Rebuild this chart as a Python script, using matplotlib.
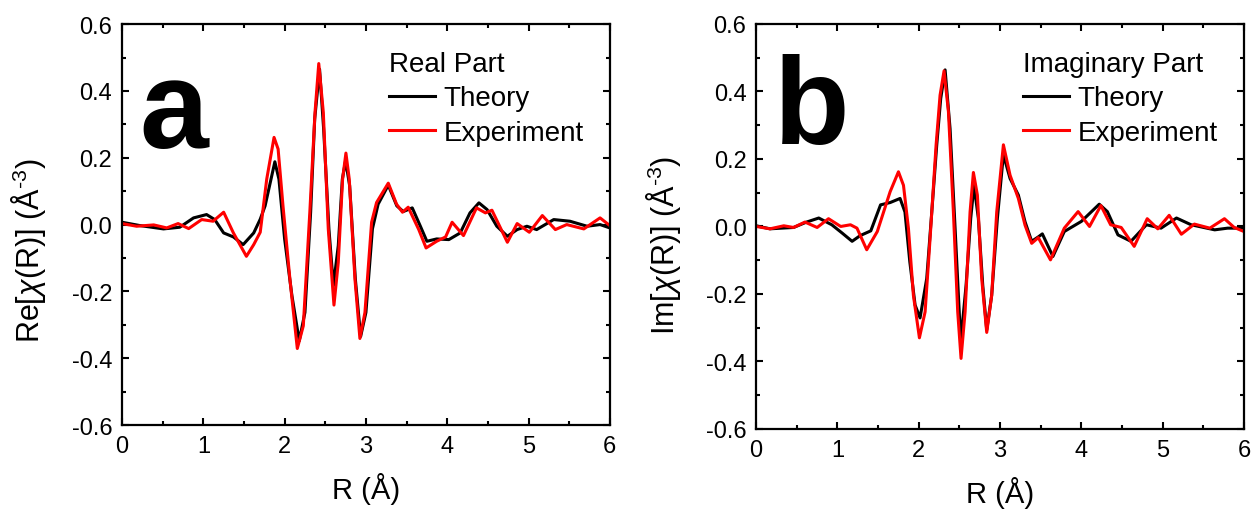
import matplotlib
matplotlib.use("Agg")
import matplotlib.pyplot as plt
from matplotlib.ticker import MultipleLocator, FormatStrFormatter

plt.rcParams["font.family"] = ["Liberation Sans", "DejaVu Sans"]
plt.rcParams["axes.unicode_minus"] = False
plt.rcParams["mathtext.fontset"] = "custom"
plt.rcParams["mathtext.rm"] = "Liberation Sans"
plt.rcParams["mathtext.it"] = "Liberation Sans:italic"

# panel a: real part
re_theory_r = [0.0, 0.22, 0.51, 0.71, 0.88, 1.04, 1.14, 1.25, 1.37, 1.49, 1.62,
               1.70, 1.76, 1.88, 1.93, 2.00, 2.09, 2.18, 2.25, 2.32, 2.37, 2.43, 2.48, 2.545,
               2.60, 2.66, 2.71, 2.75, 2.80, 2.87, 2.935, 3.00, 3.08, 3.15, 3.275, 3.38, 3.46,
               3.57, 3.67, 3.75, 3.87, 4.02, 4.16, 4.28, 4.39, 4.49, 4.61, 4.74, 4.86, 4.98,
               5.10, 5.31, 5.51, 5.72, 5.88, 6.0]
re_theory = [0.007, -0.003, -0.013, -0.008, 0.02, 0.03, 0.015, -0.025, -0.037, -0.06, -0.025,
             0.016, 0.056, 0.188, 0.136, -0.043, -0.213, -0.348, -0.263, 0.037, 0.316, 0.465,
             0.286, -0.013, -0.183, -0.063, 0.136, 0.191, 0.116, -0.163, -0.335, -0.263,
             -0.013, 0.061, 0.118, 0.056, 0.039,
             0.05, -0.005, -0.05, -0.043, -0.045, -0.025, 0.035, 0.065, 0.045, -0.005, -0.035,
             -0.015, -0.005, -0.015, 0.015, 0.01, -0.005, 0.0, -0.01]

re_exp_r = [0.0, 0.18, 0.39, 0.55, 0.69, 0.82, 0.98, 1.12, 1.25, 1.37, 1.53, 1.62,
            1.70, 1.78, 1.87, 1.92, 1.98, 2.065, 2.156, 2.23, 2.31, 2.374, 2.42, 2.476, 2.537,
            2.607, 2.66, 2.713, 2.754, 2.795, 2.865, 2.926, 2.988, 3.07, 3.131, 3.275, 3.377,
            3.45, 3.52,
            3.65, 3.74, 3.87, 3.98, 4.06, 4.20, 4.36, 4.47, 4.55, 4.74, 4.86, 5.01, 5.17, 5.33,
            5.47, 5.68, 5.88, 6.0]
re_exp = [0.003, -0.005, -0.001, -0.01, 0.003, -0.012, 0.015, 0.01, 0.037, -0.025, -0.095, -0.06,
          -0.023, 0.136, 0.261, 0.226, 0.056, -0.163, -0.371, -0.303, 0.037, 0.336, 0.482, 0.336,
          -0.013, -0.241, -0.113, 0.136, 0.214, 0.136, -0.163, -0.341, -0.263, 0.007, 0.066,
          0.124, 0.061, 0.037, 0.052,
          -0.015, -0.07, -0.05, -0.037, 0.007, -0.033, 0.05, 0.035, 0.043, -0.053, 0.003,
          -0.023, 0.027, -0.015, 0.0, -0.013, 0.02, -0.003]

# panel b: imaginary part
im_theory_r = [0.0, 0.17, 0.46, 0.62, 0.77, 0.93, 1.06, 1.18, 1.28, 1.41, 1.53,
               1.65, 1.77, 1.83, 1.89, 1.955, 2.016, 2.098, 2.16, 2.221, 2.27, 2.324, 2.385,
               2.447, 2.516, 2.582, 2.639, 2.68, 2.733, 2.787, 2.836, 2.897, 2.967, 3.041,
               3.123, 3.225, 3.307, 3.389, 3.47,
               3.52, 3.65, 3.79, 4.0, 4.22, 4.32, 4.45, 4.61, 4.80, 4.98, 5.17, 5.35, 5.64,
               5.80, 6.0]
im_theory = [0.002, -0.007, -0.003, 0.013, 0.025, 0.005, -0.02, -0.044, -0.027, -0.013, 0.064,
             0.071, 0.083, 0.043, -0.105, -0.233, -0.271, -0.154, 0.043, 0.241, 0.379, 0.464,
             0.29, -0.006, -0.342, -0.174, 0.024, 0.122, 0.024, -0.174, -0.307, -0.204, 0.024,
             0.213, 0.142, 0.093, 0.014, -0.044, -0.031,
             -0.022, -0.089, -0.015, 0.015, 0.066, 0.044, -0.025, -0.044, 0.005, -0.005, 0.025,
             0.005, -0.01, -0.005, -0.005]

im_exp_r = [0.0, 0.17, 0.34, 0.46, 0.60, 0.75, 0.89, 1.04, 1.16, 1.24, 1.36, 1.49,
            1.648, 1.75, 1.812, 1.873, 1.934, 2.008, 2.078, 2.139, 2.213, 2.262, 2.311, 2.365,
            2.426, 2.479, 2.52, 2.57, 2.631, 2.672, 2.721, 2.774, 2.836, 2.897, 2.959, 3.041,
            3.123, 3.225, 3.307, 3.389, 3.47,
            3.62, 3.79, 3.96, 4.10, 4.24, 4.36, 4.49, 4.65, 4.81, 4.94, 5.08, 5.23, 5.39, 5.58,
            5.76, 5.88, 6.0]
im_exp = [0.0, -0.007, 0.002, -0.003, 0.013, -0.003, 0.023, 0.0, 0.005, -0.005, -0.069, -0.015,
          0.103, 0.162, 0.122, -0.006, -0.204, -0.33, -0.253, -0.036, 0.241, 0.389, 0.461, 0.34,
          0.043, -0.253, -0.391, -0.253, 0.043, 0.16, 0.093, -0.154, -0.314, -0.204, 0.043,
          0.242, 0.152, 0.083, 0.004, -0.05, -0.033,
          -0.099, -0.005, 0.044, 0.0, 0.062, 0.005, -0.003, -0.059, 0.023, -0.007, 0.033,
          -0.023, 0.007, -0.005, 0.023, -0.003, -0.015]

fig = plt.figure(figsize=(12.54, 5.1), dpi=100)
ax_a = fig.add_axes([0.0973, 0.1647, 0.389, 0.786])
ax_b = fig.add_axes([0.603, 0.157, 0.389, 0.794])

panels = [
    (ax_a, re_theory_r, re_theory, re_exp_r, re_exp, "Re", "Real Part", "a", 0.693, 0.436),
    (ax_b, im_theory_r, im_theory, im_exp_r, im_exp, "Im", "Imaginary Part", "b", 0.706, 0.457),
]

for ax, tr, ty, er, ey, part, title, letter, ybase, ylab_y in panels:
    ax.plot(tr, ty, color="black", lw=2.2, label="Theory")
    ax.plot(er, ey, color="#ff0000", lw=2.2, label="Experiment")

    ax.set_xlim(0, 6)
    ax.set_ylim(-0.6, 0.6)
    ax.xaxis.set_major_locator(MultipleLocator(1))
    ax.xaxis.set_minor_locator(MultipleLocator(0.5))
    ax.yaxis.set_major_locator(MultipleLocator(0.2))
    ax.yaxis.set_minor_locator(MultipleLocator(0.1))
    ax.yaxis.set_major_formatter(FormatStrFormatter("%.1f"))
    ax.tick_params(which="both", direction="in", top=True, right=True, width=1.5,
                   labelsize=17, pad=7)
    ax.tick_params(which="major", length=5)
    ax.tick_params(which="minor", length=3)
    for s in ax.spines.values():
        s.set_linewidth(1.6)

    ax.set_xlabel("R (Å)", fontsize=21, labelpad=11)
    ax.set_ylabel(part + "[$\\chi$(R)] (Å$^{\\text{-}3}$)", fontsize=22)
    ax.yaxis.set_label_coords(-0.151, ylab_y)

    ax.legend(title=title, loc="upper left", bbox_to_anchor=(0.548, 0.933),
              frameon=False, fontsize=20, title_fontsize=20, alignment="left",
              handlelength=1.65, handletextpad=0.3, labelspacing=0.3,
              borderpad=0, borderaxespad=0)

    ax.text(0.036, ybase, letter, transform=ax.transAxes, fontsize=89,
            fontweight="bold", ha="left", va="baseline")

fig.savefig("out.png", dpi=100)
